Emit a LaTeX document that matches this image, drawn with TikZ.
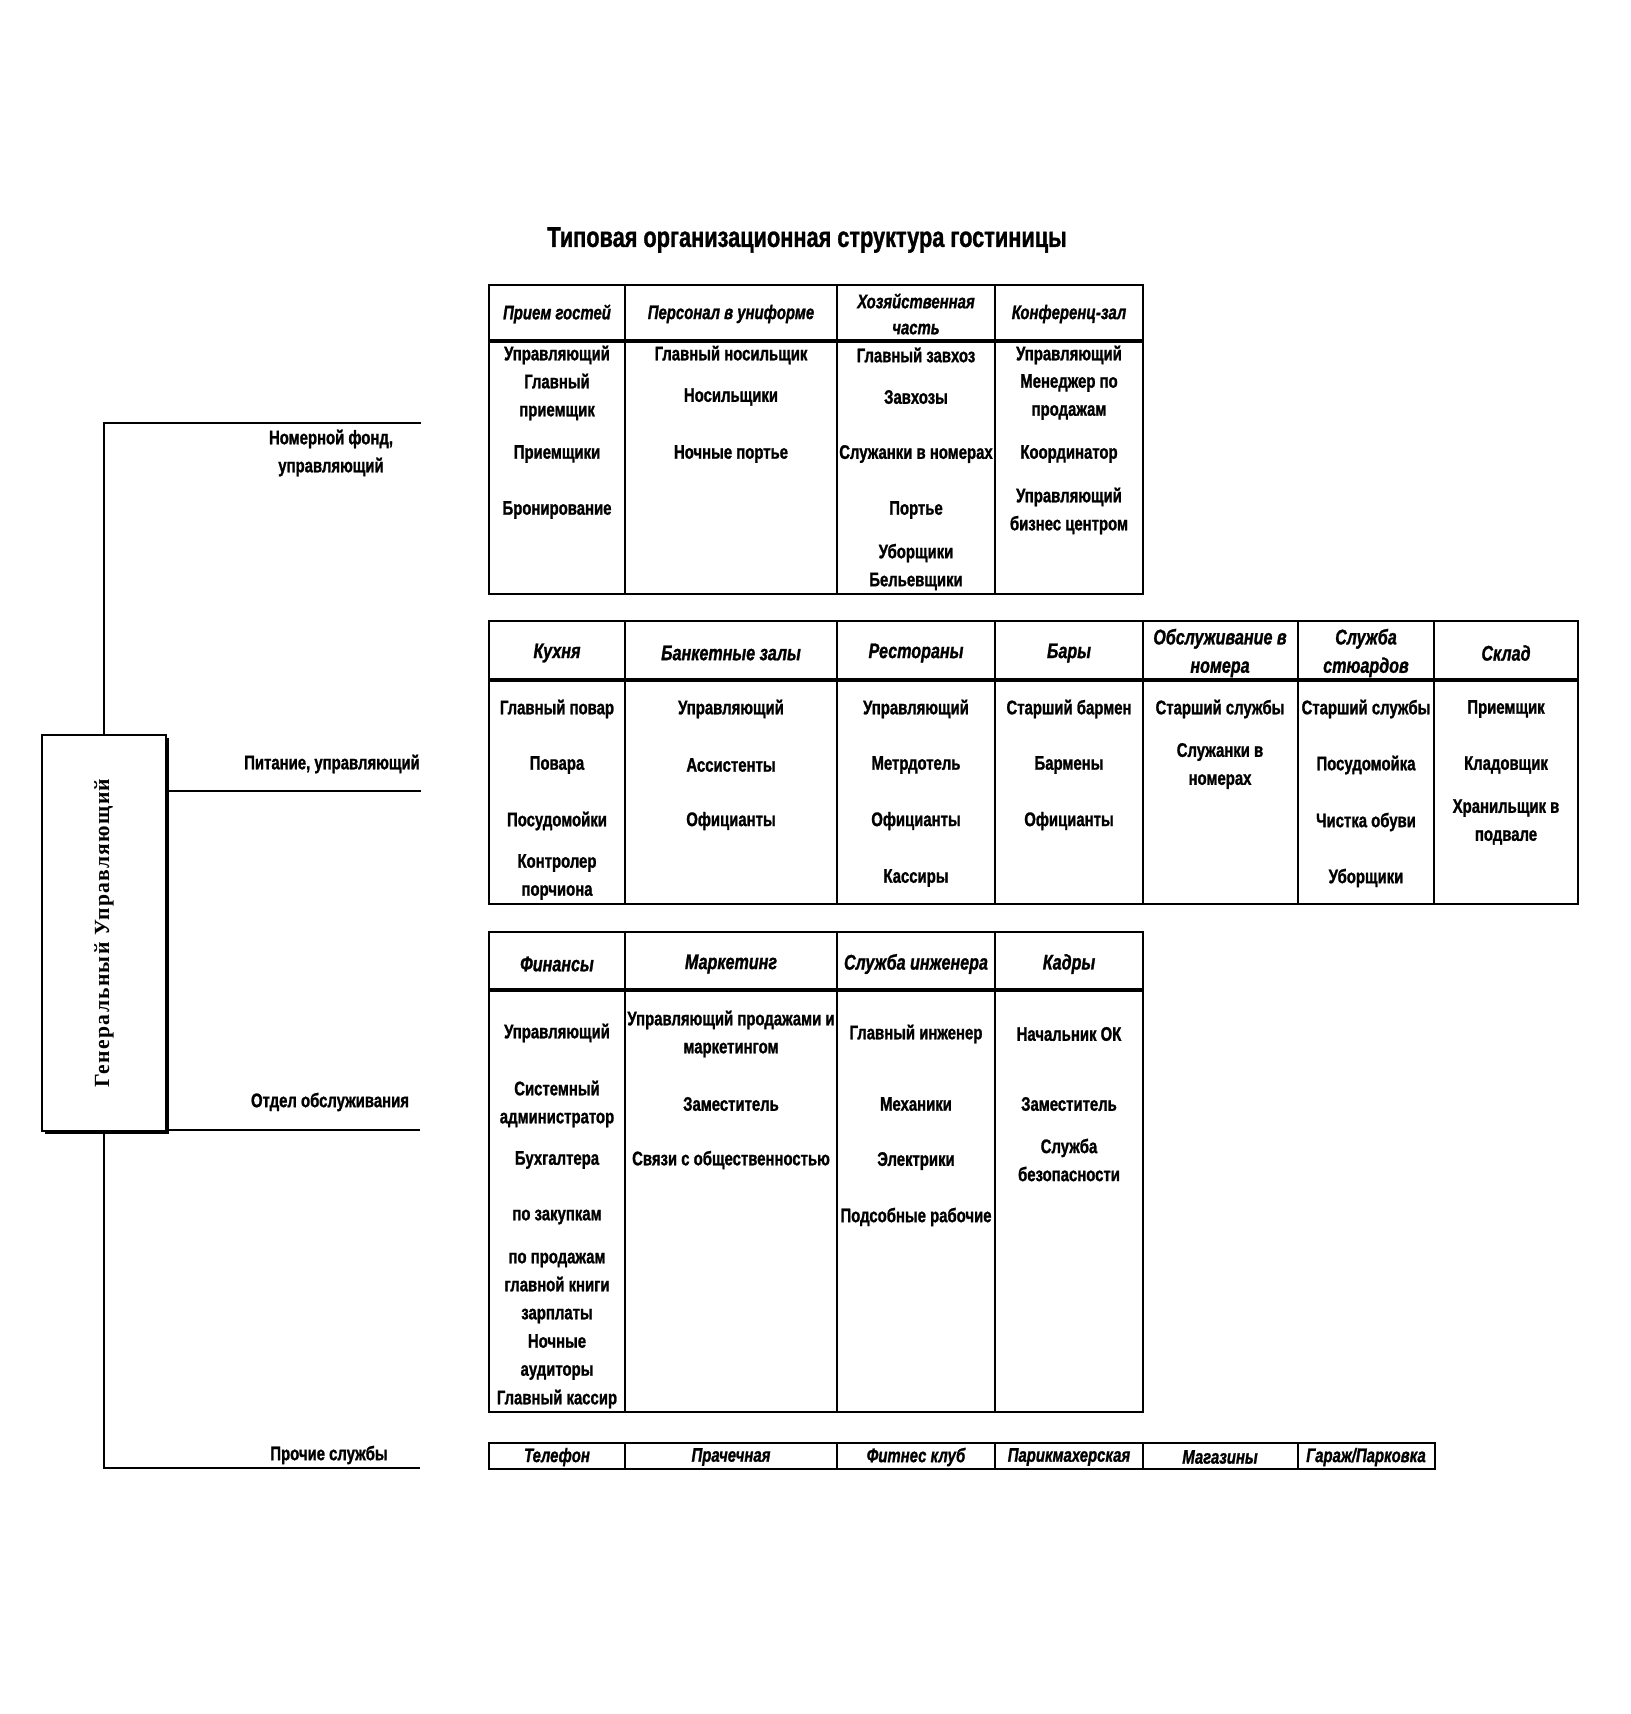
\documentclass[tikz,border=0pt]{standalone}
\usepackage{fontspec}
\setmainfont{Liberation Sans}[FakeStretch=0.76, BoldFeatures={FakeBold=1.2}, BoldItalicFeatures={FakeBold=1.2}]
\newfontfamily\gmfont{Liberation Serif}[LetterSpace=6]
\usetikzlibrary{shadows}

\tikzset{
  cell/.style={font=\bfseries\fontsize{9.8}{14}\selectfont, align=center, inner sep=0pt},
  head/.style={cell, font=\bfseries\itshape\fontsize{10.6}{14.2}\selectfont},
  strip/.style={cell, font=\bfseries\itshape\fontsize{9.8}{13}\selectfont},
  frame/.style={line width=1.2pt},
  hsep/.style={line width=2pt},
  link/.style={line width=1pt},
  gmbox/.style={draw, line width=1pt, fill=white, minimum width=62pt, minimum height=198pt,
    inner sep=0pt, drop shadow={shadow xshift=1.5pt, shadow yshift=-1.5pt, fill=black, opacity=1}}
}

\begin{document}
\begin{tikzpicture}[x=0.5pt, y=-0.5pt]
\useasboundingbox (0,0) rectangle (1630,1714);

% title
\node[cell, font=\bfseries\fontsize{14.3}{16}\selectfont] (ttl) at (807,240) {Типовая организационная структура гостиницы};

% general manager and the four branches
\node[gmbox] (gm) at (104,933) {\rotatebox{90}{\gmfont\bfseries\fontsize{10.8}{12}\selectfont Генеральный Управляющий}};
\coordinate (nf) at (421,423);
\coordinate (pit) at (421,791);
\coordinate (obs) at (420,1130);
\coordinate (pr) at (420,1468);
\draw[link] (gm.north) |- (nf);
\draw[link] (gm.east |- pit) -- (pit);
\draw[link] (gm.east |- obs) -- (obs);
\draw[link] (gm.south) |- (pr);
\node[cell] (nfl) at (331,453) {Номерной фонд,\\управляющий};
\node[cell] (pitl) at (332,764) {Питание, управляющий};
\node[cell] (obsl) at (330,1102) {Отдел обслуживания};
\node[cell] (prl) at (329,1455) {Прочие службы};

% table 1: rooms
\draw[frame] (489,285) rectangle (1143,594);
\foreach \x in {625,837,995} \draw[frame] (\x,285) -- (\x,594);
\draw[hsep] (489,341) -- (1143,341);
\node[strip] (h-priem) at (557,314) {Прием гостей};
\node[strip] (h-pers) at (731,314) {Персонал в униформе};
\node[strip] (h-hoz) at (916,314) {Хозяйственная\\часть};
\node[strip] (h-konf) at (1069,314) {Конференц-зал};
\foreach \y/\t [count=\k] in {355/Управляющий, 397/{Главный\\приемщик}, 454/Приемщики, 510/Бронирование}
  \node[cell] (priem\k) at (557,\y) {\t};
\foreach \y/\t [count=\k] in {355/Главный носильщик, 397/Носильщики, 454/Ночные портье}
  \node[cell] (pers\k) at (731,\y) {\t};
\foreach \y/\t [count=\k] in {355/Главный завхоз, 397/Завхозы, 454/Служанки в номерах, 510/Портье, 567/{Уборщики\\Бельевщики}}
  \node[cell] (hoz\k) at (916,\y) {\t};
\foreach \y/\t [count=\k] in {355/Управляющий, 397/{Менеджер по\\продажам}, 454/Координатор, 511/{Управляющий\\бизнес центром}}
  \node[cell] (konf\k) at (1069,\y) {\t};

% table 2: food and beverage
\draw[frame] (489,621) rectangle (1578,904);
\foreach \x in {625,837,995,1143,1298,1434} \draw[frame] (\x,621) -- (\x,904);
\draw[hsep] (489,680) -- (1578,680);
\node[head] (h-kuh) at (557,653) {Кухня};
\node[head] (h-bank) at (731,653) {Банкетные залы};
\node[head] (h-rest) at (916,653) {Рестораны};
\node[head] (h-bar) at (1069,653) {Бары};
\node[head] (h-room) at (1220,653) {Обслуживание в\\номера};
\node[head] (h-stew) at (1366,653) {Служба\\стюардов};
\node[head] (h-sklad) at (1506,653) {Склад};
\foreach \y/\t [count=\k] in {709/Главный повар, 765/Повара, 821/Посудомойки, 877/{Контролер\\порчиона}}
  \node[cell] (kuh\k) at (557,\y) {\t};
\foreach \y/\t [count=\k] in {709/Управляющий, 765/Ассистенты, 821/Официанты}
  \node[cell] (bank\k) at (731,\y) {\t};
\foreach \y/\t [count=\k] in {709/Управляющий, 765/Метрдотель, 821/Официанты, 878/Кассиры}
  \node[cell] (rest\k) at (916,\y) {\t};
\foreach \y/\t [count=\k] in {709/Старший бармен, 765/Бармены, 821/Официанты}
  \node[cell] (bar\k) at (1069,\y) {\t};
\foreach \y/\t [count=\k] in {709/Старший службы, 766/{Служанки в\\номерах}}
  \node[cell] (room\k) at (1220,\y) {\t};
\foreach \y/\t [count=\k] in {709/Старший службы, 765/Посудомойка, 822/Чистка обуви, 878/Уборщики}
  \node[cell] (stew\k) at (1366,\y) {\t};
\foreach \y/\t [count=\k] in {709/Приемщик, 765/Кладовщик, 822/{Хранильщик в\\подвале}}
  \node[cell] (sklad\k) at (1506,\y) {\t};

% table 3: service departments
\draw[frame] (489,932) rectangle (1143,1412);
\foreach \x in {625,837,995} \draw[frame] (\x,932) -- (\x,1412);
\draw[hsep] (489,990) -- (1143,990);
\node[head] (h-fin) at (557,964) {Финансы};
\node[head] (h-mark) at (731,964) {Маркетинг};
\node[head] (h-ing) at (916,964) {Служба инженера};
\node[head] (h-kadr) at (1069,964) {Кадры};
\foreach \y/\t [count=\k] in {1033/Управляющий, 1104/{Системный\\администратор}, 1160/Бухгалтера, 1217/по закупкам,
    1288/{по продажам\\главной книги\\зарплаты}, 1357/{Ночные\\аудиторы}, 1399/Главный кассир}
  \node[cell] (fin\k) at (557,\y) {\t};
\foreach \y/\t [count=\k] in {1034/{Управляющий продажами и\\маркетингом}, 1104/Заместитель, 1160/Связи с общественностью}
  \node[cell] (mark\k) at (731,\y) {\t};
\foreach \y/\t [count=\k] in {1034/Главный инженер, 1104/Механики, 1161/Электрики, 1217/Подсобные рабочие}
  \node[cell] (ing\k) at (916,\y) {\t};
\foreach \y/\t [count=\k] in {1034/Начальник ОК, 1104/Заместитель, 1160/{Служба\\безопасности}}
  \node[cell] (kadr\k) at (1069,\y) {\t};

% table 4: other services
\draw[frame] (489,1443) rectangle (1435,1469);
\foreach \x in {625,837,995,1143,1298} \draw[frame] (\x,1443) -- (\x,1469);
\foreach \x/\t [count=\k] in {557/Телефон, 731/Прачечная, 916/Фитнес клуб, 1069/Парикмахерская, 1220/Магазины, 1366/{Гараж/Парковка}}
  \node[strip] (proch\k) at (\x,1457) {\t};
\end{tikzpicture}
\end{document}
